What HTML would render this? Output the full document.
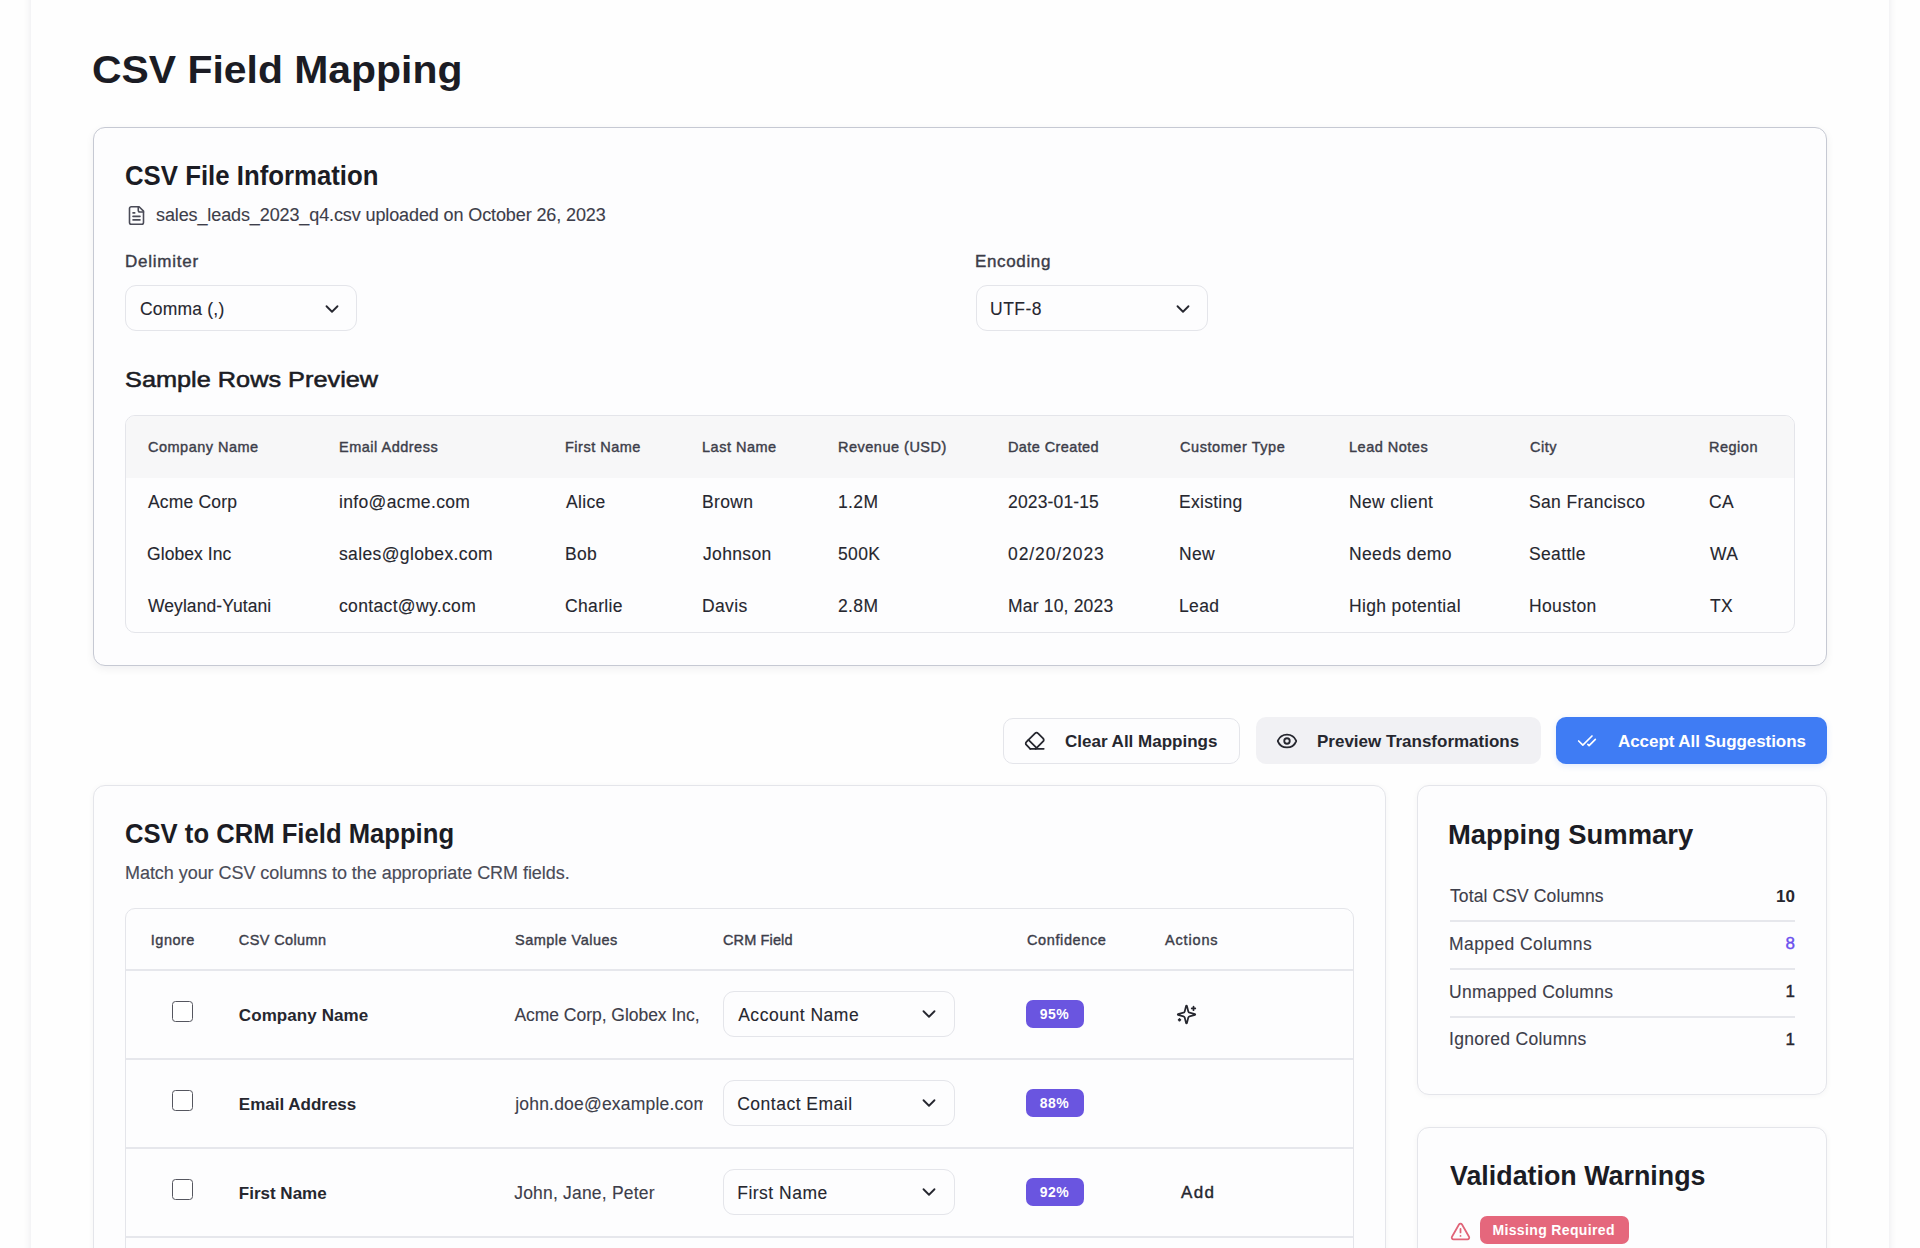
<!DOCTYPE html>
<html><head><meta charset="utf-8">
<style>
*{box-sizing:border-box;margin:0;padding:0}
html,body{width:1920px;height:1248px;overflow:hidden;background:#fefefe;font-family:"Liberation Sans",sans-serif;color:#26272f}
.t{position:absolute;white-space:nowrap}
.b{position:absolute}
.i{position:absolute;overflow:visible}
</style></head>
<body>
<div class="b" style="left:31px;top:-20px;width:1858px;height:1320px;background:#fefefe;box-shadow:0 0 8px rgba(20,20,60,0.085)"></div>
<div class="t" style="left:92.00px;top:51.41px;font-size:38.5px;line-height:38.5px;font-weight:700;color:#1b1c24;transform:scaleX(1.0625);transform-origin:0 0;">CSV Field Mapping</div>
<div class="b" style="left:93px;top:127px;width:1734px;height:539px;border:1px solid #c6c9d3;border-radius:12px;background:#fdfdfe;box-shadow:0 3px 8px rgba(20,20,40,0.06)"></div>
<div class="t" style="left:125.00px;top:162.22px;font-size:27.5px;line-height:27.5px;font-weight:700;color:#1b1c24;transform:scaleX(0.9373);transform-origin:0 0;">CSV File Information</div>
<svg class="i" style="left:125.5px;top:204.5px" width="21" height="21" viewBox="0 0 24 24" fill="none" stroke="#4a4b57" stroke-width="1.8" stroke-linecap="round" stroke-linejoin="round"><path d="M15 2H6a2 2 0 0 0-2 2v16a2 2 0 0 0 2 2h12a2 2 0 0 0 2-2V7Z"/><path d="M14 2v4a2 2 0 0 0 2 2h4"/><path d="M10 9H8"/><path d="M16 13H8"/><path d="M16 17H8"/></svg>
<div class="t" style="left:156.00px;top:205.76px;font-size:18px;line-height:18px;color:#3d3e4a;-webkit-text-stroke:0.12px #3d3e4a;letter-spacing:-0.110px;">sales_leads_2023_q4.csv uploaded on October 26, 2023</div>
<div class="t" style="left:125.00px;top:252.61px;font-size:17px;line-height:17px;color:#3b3c48;-webkit-text-stroke:0.4px #3b3c48;letter-spacing:0.750px;">Delimiter</div>
<div class="b" style="left:125px;top:285px;width:232px;height:46px;border:1px solid #e4e5ea;border-radius:11px;background:#fdfdfe"></div>
<div class="t" style="left:140.00px;top:300.69px;font-size:17.5px;line-height:17.5px;color:#26272f;-webkit-text-stroke:0.1px #26272f;letter-spacing:0.200px;">Comma (,)</div>
<svg class="i" style="left:320.5px;top:297.7px" width="22" height="22" viewBox="0 0 24 24" fill="none" stroke="#26272f" stroke-width="2" stroke-linecap="round" stroke-linejoin="round"><path d="m6 9 6 6 6-6"/></svg>
<div class="t" style="left:975.00px;top:252.61px;font-size:17px;line-height:17px;color:#3b3c48;-webkit-text-stroke:0.4px #3b3c48;letter-spacing:0.643px;">Encoding</div>
<div class="b" style="left:976px;top:285px;width:232px;height:46px;border:1px solid #e4e5ea;border-radius:11px;background:#fdfdfe"></div>
<div class="t" style="left:990.00px;top:300.69px;font-size:17.5px;line-height:17.5px;color:#26272f;-webkit-text-stroke:0.1px #26272f;letter-spacing:0.500px;">UTF-8</div>
<svg class="i" style="left:1171.5px;top:297.7px" width="22" height="22" viewBox="0 0 24 24" fill="none" stroke="#26272f" stroke-width="2" stroke-linecap="round" stroke-linejoin="round"><path d="m6 9 6 6 6-6"/></svg>
<div class="t" style="left:125.00px;top:368.95px;font-size:22.5px;line-height:22.5px;color:#1b1c24;-webkit-text-stroke:0.55px #1b1c24;transform:scaleX(1.1245);transform-origin:0 0;">Sample Rows Preview</div>
<div class="b" style="left:125px;top:415px;width:1670px;height:218px;border:1px solid #e4e5ea;border-radius:10px;background:#fdfdfe;overflow:hidden"></div>
<div class="b" style="left:126px;top:416px;width:1668px;height:62px;background:#f7f7f8;border-radius:9px 9px 0 0"></div>
<div class="t" style="left:148.00px;top:439.73px;font-size:14.5px;line-height:14.5px;color:#3d3e4a;-webkit-text-stroke:0.4px #3d3e4a;letter-spacing:0.487px;">Company Name</div>
<div class="t" style="left:339.00px;top:439.73px;font-size:14.5px;line-height:14.5px;color:#3d3e4a;-webkit-text-stroke:0.4px #3d3e4a;letter-spacing:0.500px;">Email Address</div>
<div class="t" style="left:565.00px;top:439.73px;font-size:14.5px;line-height:14.5px;color:#3d3e4a;-webkit-text-stroke:0.4px #3d3e4a;letter-spacing:0.500px;">First Name</div>
<div class="t" style="left:702.00px;top:439.73px;font-size:14.5px;line-height:14.5px;color:#3d3e4a;-webkit-text-stroke:0.4px #3d3e4a;letter-spacing:0.500px;">Last Name</div>
<div class="t" style="left:838.00px;top:439.73px;font-size:14.5px;line-height:14.5px;color:#3d3e4a;-webkit-text-stroke:0.4px #3d3e4a;letter-spacing:0.500px;">Revenue (USD)</div>
<div class="t" style="left:1008.00px;top:439.73px;font-size:14.5px;line-height:14.5px;color:#3d3e4a;-webkit-text-stroke:0.4px #3d3e4a;letter-spacing:0.400px;">Date Created</div>
<div class="t" style="left:1180.00px;top:439.73px;font-size:14.5px;line-height:14.5px;color:#3d3e4a;-webkit-text-stroke:0.4px #3d3e4a;letter-spacing:0.557px;">Customer Type</div>
<div class="t" style="left:1349.00px;top:439.73px;font-size:14.5px;line-height:14.5px;color:#3d3e4a;-webkit-text-stroke:0.4px #3d3e4a;letter-spacing:0.500px;">Lead Notes</div>
<div class="t" style="left:1530.00px;top:439.73px;font-size:14.5px;line-height:14.5px;color:#3d3e4a;-webkit-text-stroke:0.4px #3d3e4a;letter-spacing:0.500px;">City</div>
<div class="t" style="left:1709.00px;top:439.73px;font-size:14.5px;line-height:14.5px;color:#3d3e4a;-webkit-text-stroke:0.4px #3d3e4a;letter-spacing:0.500px;">Region</div>
<div class="t" style="left:148.00px;top:494.49px;font-size:17.5px;line-height:17.5px;color:#26272f;-webkit-text-stroke:0.12px #26272f;letter-spacing:0.171px;">Acme Corp</div>
<div class="t" style="left:339.00px;top:494.49px;font-size:17.5px;line-height:17.5px;color:#26272f;-webkit-text-stroke:0.12px #26272f;letter-spacing:0.350px;">info@acme.com</div>
<div class="t" style="left:566.00px;top:494.49px;font-size:17.5px;line-height:17.5px;color:#26272f;-webkit-text-stroke:0.12px #26272f;letter-spacing:0.350px;">Alice</div>
<div class="t" style="left:702.00px;top:494.49px;font-size:17.5px;line-height:17.5px;color:#26272f;-webkit-text-stroke:0.12px #26272f;letter-spacing:0.350px;">Brown</div>
<div class="t" style="left:838.00px;top:494.49px;font-size:17.5px;line-height:17.5px;color:#26272f;-webkit-text-stroke:0.12px #26272f;letter-spacing:0.350px;">1.2M</div>
<div class="t" style="left:1008.00px;top:494.49px;font-size:17.5px;line-height:17.5px;color:#26272f;-webkit-text-stroke:0.12px #26272f;letter-spacing:0.148px;">2023-01-15</div>
<div class="t" style="left:1179.00px;top:494.49px;font-size:17.5px;line-height:17.5px;color:#26272f;-webkit-text-stroke:0.12px #26272f;letter-spacing:0.284px;">Existing</div>
<div class="t" style="left:1349.00px;top:494.49px;font-size:17.5px;line-height:17.5px;color:#26272f;-webkit-text-stroke:0.12px #26272f;letter-spacing:0.350px;">New client</div>
<div class="t" style="left:1529.00px;top:494.49px;font-size:17.5px;line-height:17.5px;color:#26272f;-webkit-text-stroke:0.12px #26272f;letter-spacing:0.350px;">San Francisco</div>
<div class="t" style="left:1709.00px;top:494.49px;font-size:17.5px;line-height:17.5px;color:#26272f;-webkit-text-stroke:0.12px #26272f;letter-spacing:0.350px;">CA</div>
<div class="t" style="left:147.00px;top:546.49px;font-size:17.5px;line-height:17.5px;color:#26272f;-webkit-text-stroke:0.12px #26272f;letter-spacing:0.078px;">Globex Inc</div>
<div class="t" style="left:339.00px;top:546.49px;font-size:17.5px;line-height:17.5px;color:#26272f;-webkit-text-stroke:0.12px #26272f;letter-spacing:0.366px;">sales@globex.com</div>
<div class="t" style="left:565.00px;top:546.49px;font-size:17.5px;line-height:17.5px;color:#26272f;-webkit-text-stroke:0.12px #26272f;letter-spacing:0.350px;">Bob</div>
<div class="t" style="left:703.00px;top:546.49px;font-size:17.5px;line-height:17.5px;color:#26272f;-webkit-text-stroke:0.12px #26272f;letter-spacing:0.350px;">Johnson</div>
<div class="t" style="left:838.00px;top:546.49px;font-size:17.5px;line-height:17.5px;color:#26272f;-webkit-text-stroke:0.12px #26272f;letter-spacing:0.350px;">500K</div>
<div class="t" style="left:1008.00px;top:546.49px;font-size:17.5px;line-height:17.5px;color:#26272f;-webkit-text-stroke:0.12px #26272f;letter-spacing:0.910px;">02/20/2023</div>
<div class="t" style="left:1179.00px;top:546.49px;font-size:17.5px;line-height:17.5px;color:#26272f;-webkit-text-stroke:0.12px #26272f;letter-spacing:0.350px;">New</div>
<div class="t" style="left:1349.00px;top:546.49px;font-size:17.5px;line-height:17.5px;color:#26272f;-webkit-text-stroke:0.12px #26272f;letter-spacing:0.350px;">Needs demo</div>
<div class="t" style="left:1529.00px;top:546.49px;font-size:17.5px;line-height:17.5px;color:#26272f;-webkit-text-stroke:0.12px #26272f;letter-spacing:0.350px;">Seattle</div>
<div class="t" style="left:1710.00px;top:546.49px;font-size:17.5px;line-height:17.5px;color:#26272f;-webkit-text-stroke:0.12px #26272f;letter-spacing:0.350px;">WA</div>
<div class="t" style="left:148.00px;top:598.49px;font-size:17.5px;line-height:17.5px;color:#26272f;-webkit-text-stroke:0.12px #26272f;letter-spacing:0.069px;">Weyland-Yutani</div>
<div class="t" style="left:339.00px;top:598.49px;font-size:17.5px;line-height:17.5px;color:#26272f;-webkit-text-stroke:0.12px #26272f;letter-spacing:0.350px;">contact@wy.com</div>
<div class="t" style="left:565.00px;top:598.49px;font-size:17.5px;line-height:17.5px;color:#26272f;-webkit-text-stroke:0.12px #26272f;letter-spacing:0.350px;">Charlie</div>
<div class="t" style="left:702.00px;top:598.49px;font-size:17.5px;line-height:17.5px;color:#26272f;-webkit-text-stroke:0.12px #26272f;letter-spacing:0.350px;">Davis</div>
<div class="t" style="left:838.00px;top:598.49px;font-size:17.5px;line-height:17.5px;color:#26272f;-webkit-text-stroke:0.12px #26272f;letter-spacing:0.350px;">2.8M</div>
<div class="t" style="left:1008.00px;top:598.49px;font-size:17.5px;line-height:17.5px;color:#26272f;-webkit-text-stroke:0.12px #26272f;letter-spacing:0.185px;">Mar 10, 2023</div>
<div class="t" style="left:1179.00px;top:598.49px;font-size:17.5px;line-height:17.5px;color:#26272f;-webkit-text-stroke:0.12px #26272f;letter-spacing:0.350px;">Lead</div>
<div class="t" style="left:1349.00px;top:598.49px;font-size:17.5px;line-height:17.5px;color:#26272f;-webkit-text-stroke:0.12px #26272f;letter-spacing:0.350px;">High potential</div>
<div class="t" style="left:1529.00px;top:598.49px;font-size:17.5px;line-height:17.5px;color:#26272f;-webkit-text-stroke:0.12px #26272f;letter-spacing:0.350px;">Houston</div>
<div class="t" style="left:1710.00px;top:598.49px;font-size:17.5px;line-height:17.5px;color:#26272f;-webkit-text-stroke:0.12px #26272f;letter-spacing:0.350px;">TX</div>
<div class="b" style="left:1003px;top:718px;width:237px;height:46px;border:1px solid #e4e5ea;border-radius:10px;background:#fdfdfe"></div>
<svg class="i" style="left:1024px;top:730px" width="21.5" height="21.5" viewBox="0 0 24 24" fill="none" stroke="#26272f" stroke-width="2" stroke-linecap="round" stroke-linejoin="round"><path d="m7 21-4.3-4.3c-1-1-1-2.5 0-3.4l9.6-9.6c1-1 2.5-1 3.4 0l5.6 5.6c1 1 1 2.5 0 3.4L13 21"/><path d="M22 21H7"/><path d="m5 11 9 9"/></svg>
<div class="t" style="left:1065.00px;top:732.61px;font-size:17px;line-height:17px;font-weight:700;color:#26272f;">Clear All Mappings</div>
<div class="b" style="left:1256px;top:717px;width:285px;height:47px;border-radius:10px;background:#f1f1f4"></div>
<svg class="i" style="left:1275.5px;top:729.5px" width="22" height="22" viewBox="0 0 24 24" fill="none" stroke="#26272f" stroke-width="2" stroke-linecap="round" stroke-linejoin="round"><path d="M2.062 12.348a1 1 0 0 1 0-.696 10.75 10.75 0 0 1 19.876 0 1 1 0 0 1 0 .696 10.75 10.75 0 0 1-19.876 0"/><circle cx="12" cy="12" r="3"/></svg>
<div class="t" style="left:1317.00px;top:732.61px;font-size:17px;line-height:17px;font-weight:700;color:#26272f;">Preview Transformations</div>
<div class="b" style="left:1556px;top:717px;width:271px;height:47px;border-radius:10px;background:#3f7cf4;box-shadow:0 2px 6px rgba(64,128,242,0.15)"></div>
<svg class="i" style="left:1577px;top:731px" width="20" height="20" viewBox="0 0 24 24" fill="none" stroke="#ffffff" stroke-width="2" stroke-linecap="round" stroke-linejoin="round"><path d="M18 6 7 17l-5-5"/><path d="m22 10-7.5 7.5L13 16"/></svg>
<div class="t" style="left:1618.00px;top:732.61px;font-size:17px;line-height:17px;font-weight:700;color:#ffffff;letter-spacing:-0.060px;">Accept All Suggestions</div>
<div class="b" style="left:93px;top:785px;width:1293px;height:615px;border:1px solid #e4e5ea;border-radius:12px;background:#fdfdfe;box-shadow:0 1px 6px rgba(20,20,40,0.04)"></div>
<div class="t" style="left:125.00px;top:819.72px;font-size:27.5px;line-height:27.5px;font-weight:700;color:#1b1c24;transform:scaleX(0.9325);transform-origin:0 0;">CSV to CRM Field Mapping</div>
<div class="t" style="left:125.00px;top:863.76px;font-size:18px;line-height:18px;color:#4a4b57;-webkit-text-stroke:0.15px #4a4b57;letter-spacing:-0.048px;">Match your CSV columns to the appropriate CRM fields.</div>
<div class="b" style="left:125px;top:908px;width:1229px;height:492px;border:1px solid #e4e5ea;border-radius:10px;background:#fdfdfe"></div>
<div class="b" style="left:126px;top:969px;width:1227px;height:2px;background:#e6e7ec"></div>
<div class="t" style="left:150.80px;top:932.73px;font-size:14.5px;line-height:14.5px;color:#3d3e4a;-webkit-text-stroke:0.4px #3d3e4a;letter-spacing:0.500px;">Ignore</div>
<div class="t" style="left:238.80px;top:932.73px;font-size:14.5px;line-height:14.5px;color:#3d3e4a;-webkit-text-stroke:0.4px #3d3e4a;letter-spacing:0.389px;">CSV Column</div>
<div class="t" style="left:515.00px;top:932.73px;font-size:14.5px;line-height:14.5px;color:#3d3e4a;-webkit-text-stroke:0.4px #3d3e4a;letter-spacing:0.483px;">Sample Values</div>
<div class="t" style="left:723.00px;top:932.73px;font-size:14.5px;line-height:14.5px;color:#3d3e4a;-webkit-text-stroke:0.4px #3d3e4a;letter-spacing:0.129px;">CRM Field</div>
<div class="t" style="left:1027.00px;top:932.73px;font-size:14.5px;line-height:14.5px;color:#3d3e4a;-webkit-text-stroke:0.4px #3d3e4a;letter-spacing:0.612px;">Confidence</div>
<div class="t" style="left:1165.00px;top:932.73px;font-size:14.5px;line-height:14.5px;color:#3d3e4a;-webkit-text-stroke:0.4px #3d3e4a;letter-spacing:0.834px;">Actions</div>
<div class="b" style="left:172px;top:1001px;width:21px;height:21px;border:1.3px solid #55565f;border-radius:3.5px;background:#fff"></div>
<div class="t" style="left:238.80px;top:1006.81px;font-size:17px;line-height:17px;font-weight:700;color:#26272f;letter-spacing:0.091px;">Company Name</div>
<div class="b" style="left:514px;top:995px;width:189px;height:34px;overflow:hidden"><div class="t" style="left:0.40px;top:11.79px;font-size:17.5px;line-height:17.5px;color:#3d3e4a;-webkit-text-stroke:0.12px #3d3e4a;letter-spacing:-0.031px;">Acme Corp, Globex Inc,</div>
</div>
<div class="b" style="left:723px;top:991px;width:232px;height:46px;border:1px solid #e4e5ea;border-radius:11px;background:#fdfdfe"></div>
<div class="t" style="left:738.20px;top:1006.79px;font-size:17.5px;line-height:17.5px;color:#26272f;-webkit-text-stroke:0.1px #26272f;letter-spacing:0.515px;">Account Name</div>
<svg class="i" style="left:918px;top:1002.5px" width="22" height="22" viewBox="0 0 24 24" fill="none" stroke="#26272f" stroke-width="2" stroke-linecap="round" stroke-linejoin="round"><path d="m6 9 6 6 6-6"/></svg>
<div class="b" style="left:1026px;top:1000px;width:58px;height:28px;background:#6a55e0;border-radius:7px"></div>
<div class="t" style="left:1039.80px;top:1007.15px;font-size:14px;line-height:14px;font-weight:700;color:#ffffff;letter-spacing:0.500px;">95%</div>
<svg class="i" style="left:1176px;top:1003.5px" width="21" height="21" viewBox="0 0 24 24" fill="none" stroke="#26272f" stroke-width="2" stroke-linecap="round" stroke-linejoin="round"><path d="M9.937 15.5A2 2 0 0 0 8.5 14.063l-6.135-1.582a.5.5 0 0 1 0-.962L8.5 9.936A2 2 0 0 0 9.937 8.5l1.582-6.135a.5.5 0 0 1 .963 0L14.063 8.5A2 2 0 0 0 15.5 9.937l6.135 1.581a.5.5 0 0 1 0 .964L15.5 14.063a2 2 0 0 0-1.437 1.437l-1.582 6.135a.5.5 0 0 1-.963 0z"/><path d="M20 3v4"/><path d="M22 5h-4"/><path d="M4 17v2"/><path d="M5 18H3"/></svg>
<div class="b" style="left:172px;top:1090px;width:21px;height:21px;border:1.3px solid #55565f;border-radius:3.5px;background:#fff"></div>
<div class="t" style="left:238.80px;top:1095.81px;font-size:17px;line-height:17px;font-weight:700;color:#26272f;">Email Address</div>
<div class="b" style="left:514px;top:1084px;width:189px;height:34px;overflow:hidden"><div class="t" style="left:1.20px;top:11.79px;font-size:17.5px;line-height:17.5px;color:#3d3e4a;-webkit-text-stroke:0.12px #3d3e4a;letter-spacing:0.200px;">john.doe@example.com</div>
</div>
<div class="b" style="left:723px;top:1080px;width:232px;height:46px;border:1px solid #e4e5ea;border-radius:11px;background:#fdfdfe"></div>
<div class="t" style="left:737.20px;top:1095.79px;font-size:17.5px;line-height:17.5px;color:#26272f;-webkit-text-stroke:0.1px #26272f;letter-spacing:0.500px;">Contact Email</div>
<svg class="i" style="left:918px;top:1091.5px" width="22" height="22" viewBox="0 0 24 24" fill="none" stroke="#26272f" stroke-width="2" stroke-linecap="round" stroke-linejoin="round"><path d="m6 9 6 6 6-6"/></svg>
<div class="b" style="left:1026px;top:1089px;width:58px;height:28px;background:#6a55e0;border-radius:7px"></div>
<div class="t" style="left:1039.80px;top:1096.15px;font-size:14px;line-height:14px;font-weight:700;color:#ffffff;letter-spacing:0.500px;">88%</div>
<div class="b" style="left:172px;top:1179px;width:21px;height:21px;border:1.3px solid #55565f;border-radius:3.5px;background:#fff"></div>
<div class="t" style="left:238.80px;top:1184.81px;font-size:17px;line-height:17px;font-weight:700;color:#26272f;">First Name</div>
<div class="b" style="left:514px;top:1173px;width:189px;height:34px;overflow:hidden"><div class="t" style="left:0.20px;top:11.79px;font-size:17.5px;line-height:17.5px;color:#3d3e4a;-webkit-text-stroke:0.12px #3d3e4a;letter-spacing:0.200px;">John, Jane, Peter</div>
</div>
<div class="b" style="left:723px;top:1169px;width:232px;height:46px;border:1px solid #e4e5ea;border-radius:11px;background:#fdfdfe"></div>
<div class="t" style="left:737.20px;top:1184.79px;font-size:17.5px;line-height:17.5px;color:#26272f;-webkit-text-stroke:0.1px #26272f;letter-spacing:0.500px;">First Name</div>
<svg class="i" style="left:918px;top:1180.5px" width="22" height="22" viewBox="0 0 24 24" fill="none" stroke="#26272f" stroke-width="2" stroke-linecap="round" stroke-linejoin="round"><path d="m6 9 6 6 6-6"/></svg>
<div class="b" style="left:1026px;top:1178px;width:58px;height:28px;background:#6a55e0;border-radius:7px"></div>
<div class="t" style="left:1039.80px;top:1185.15px;font-size:14px;line-height:14px;font-weight:700;color:#ffffff;letter-spacing:0.500px;">92%</div>
<div class="t" style="left:1181.00px;top:1183.61px;font-size:17px;line-height:17px;color:#26272f;-webkit-text-stroke:0.4px #26272f;letter-spacing:1.300px;">Add</div>
<div class="b" style="left:126px;top:1058px;width:1227px;height:2px;background:#e6e7ec"></div>
<div class="b" style="left:126px;top:1147px;width:1227px;height:2px;background:#e6e7ec"></div>
<div class="b" style="left:126px;top:1236px;width:1227px;height:2px;background:#e6e7ec"></div>
<div class="b" style="left:1417px;top:785px;width:410px;height:310px;border:1px solid #e4e5ea;border-radius:12px;background:#fdfdfe;box-shadow:0 1px 6px rgba(20,20,40,0.04)"></div>
<div class="t" style="left:1448.20px;top:820.52px;font-size:27.5px;line-height:27.5px;font-weight:700;color:#1b1c24;transform:scaleX(0.9966);transform-origin:0 0;">Mapping Summary</div>
<div class="t" style="left:1450.00px;top:888.19px;font-size:17.5px;line-height:17.5px;color:#3d3e4a;-webkit-text-stroke:0.12px #3d3e4a;letter-spacing:0.112px;">Total CSV Columns</div>
<div class="t" style="left:1645.00px;top:887.61px;font-size:17px;line-height:17px;font-weight:700;color:#26272f;width:150px;text-align:right;">10</div>
<div class="b" style="left:1450px;top:920px;width:345px;height:2px;background:#e6e7ec"></div>
<div class="t" style="left:1449.00px;top:935.89px;font-size:17.5px;line-height:17.5px;color:#3d3e4a;-webkit-text-stroke:0.12px #3d3e4a;letter-spacing:0.423px;">Mapped Columns</div>
<div class="t" style="left:1645.00px;top:935.31px;font-size:17px;line-height:17px;color:#6b50ee;-webkit-text-stroke:0.4px #6b50ee;width:150px;text-align:right;">8</div>
<div class="b" style="left:1450px;top:968px;width:345px;height:2px;background:#e6e7ec"></div>
<div class="t" style="left:1449.00px;top:983.59px;font-size:17.5px;line-height:17.5px;color:#3d3e4a;-webkit-text-stroke:0.12px #3d3e4a;letter-spacing:0.300px;">Unmapped Columns</div>
<div class="t" style="left:1645.00px;top:983.01px;font-size:17px;line-height:17px;color:#26272f;-webkit-text-stroke:0.4px #26272f;width:150px;text-align:right;">1</div>
<div class="b" style="left:1450px;top:1016px;width:345px;height:2px;background:#e6e7ec"></div>
<div class="t" style="left:1449.00px;top:1031.29px;font-size:17.5px;line-height:17.5px;color:#3d3e4a;-webkit-text-stroke:0.12px #3d3e4a;letter-spacing:0.285px;">Ignored Columns</div>
<div class="t" style="left:1645.00px;top:1030.71px;font-size:17px;line-height:17px;color:#26272f;-webkit-text-stroke:0.4px #26272f;width:150px;text-align:right;">1</div>
<div class="b" style="left:1417px;top:1127px;width:410px;height:273px;border:1px solid #e4e5ea;border-radius:12px;background:#fdfdfe;box-shadow:0 1px 6px rgba(20,20,40,0.04)"></div>
<div class="t" style="left:1450.40px;top:1162.22px;font-size:27.5px;line-height:27.5px;font-weight:700;color:#1b1c24;transform:scaleX(0.9759);transform-origin:0 0;">Validation Warnings</div>
<svg class="i" style="left:1449.5px;top:1220.5px" width="21" height="21" viewBox="0 0 24 24" fill="none" stroke="#e06478" stroke-width="2" stroke-linecap="round" stroke-linejoin="round"><path d="m21.73 18-8-14a2 2 0 0 0-3.48 0l-8 14A2 2 0 0 0 4 21h16a2 2 0 0 0 1.73-3"/><path d="M12 9v4"/><path d="M12 17h.01"/></svg>
<div class="b" style="left:1480px;top:1216px;width:149px;height:28px;background:#e5677c;border-radius:7px"></div>
<div class="t" style="left:1492.40px;top:1223.15px;font-size:14px;line-height:14px;font-weight:700;color:#ffffff;letter-spacing:0.362px;">Missing Required</div>
</body></html>
